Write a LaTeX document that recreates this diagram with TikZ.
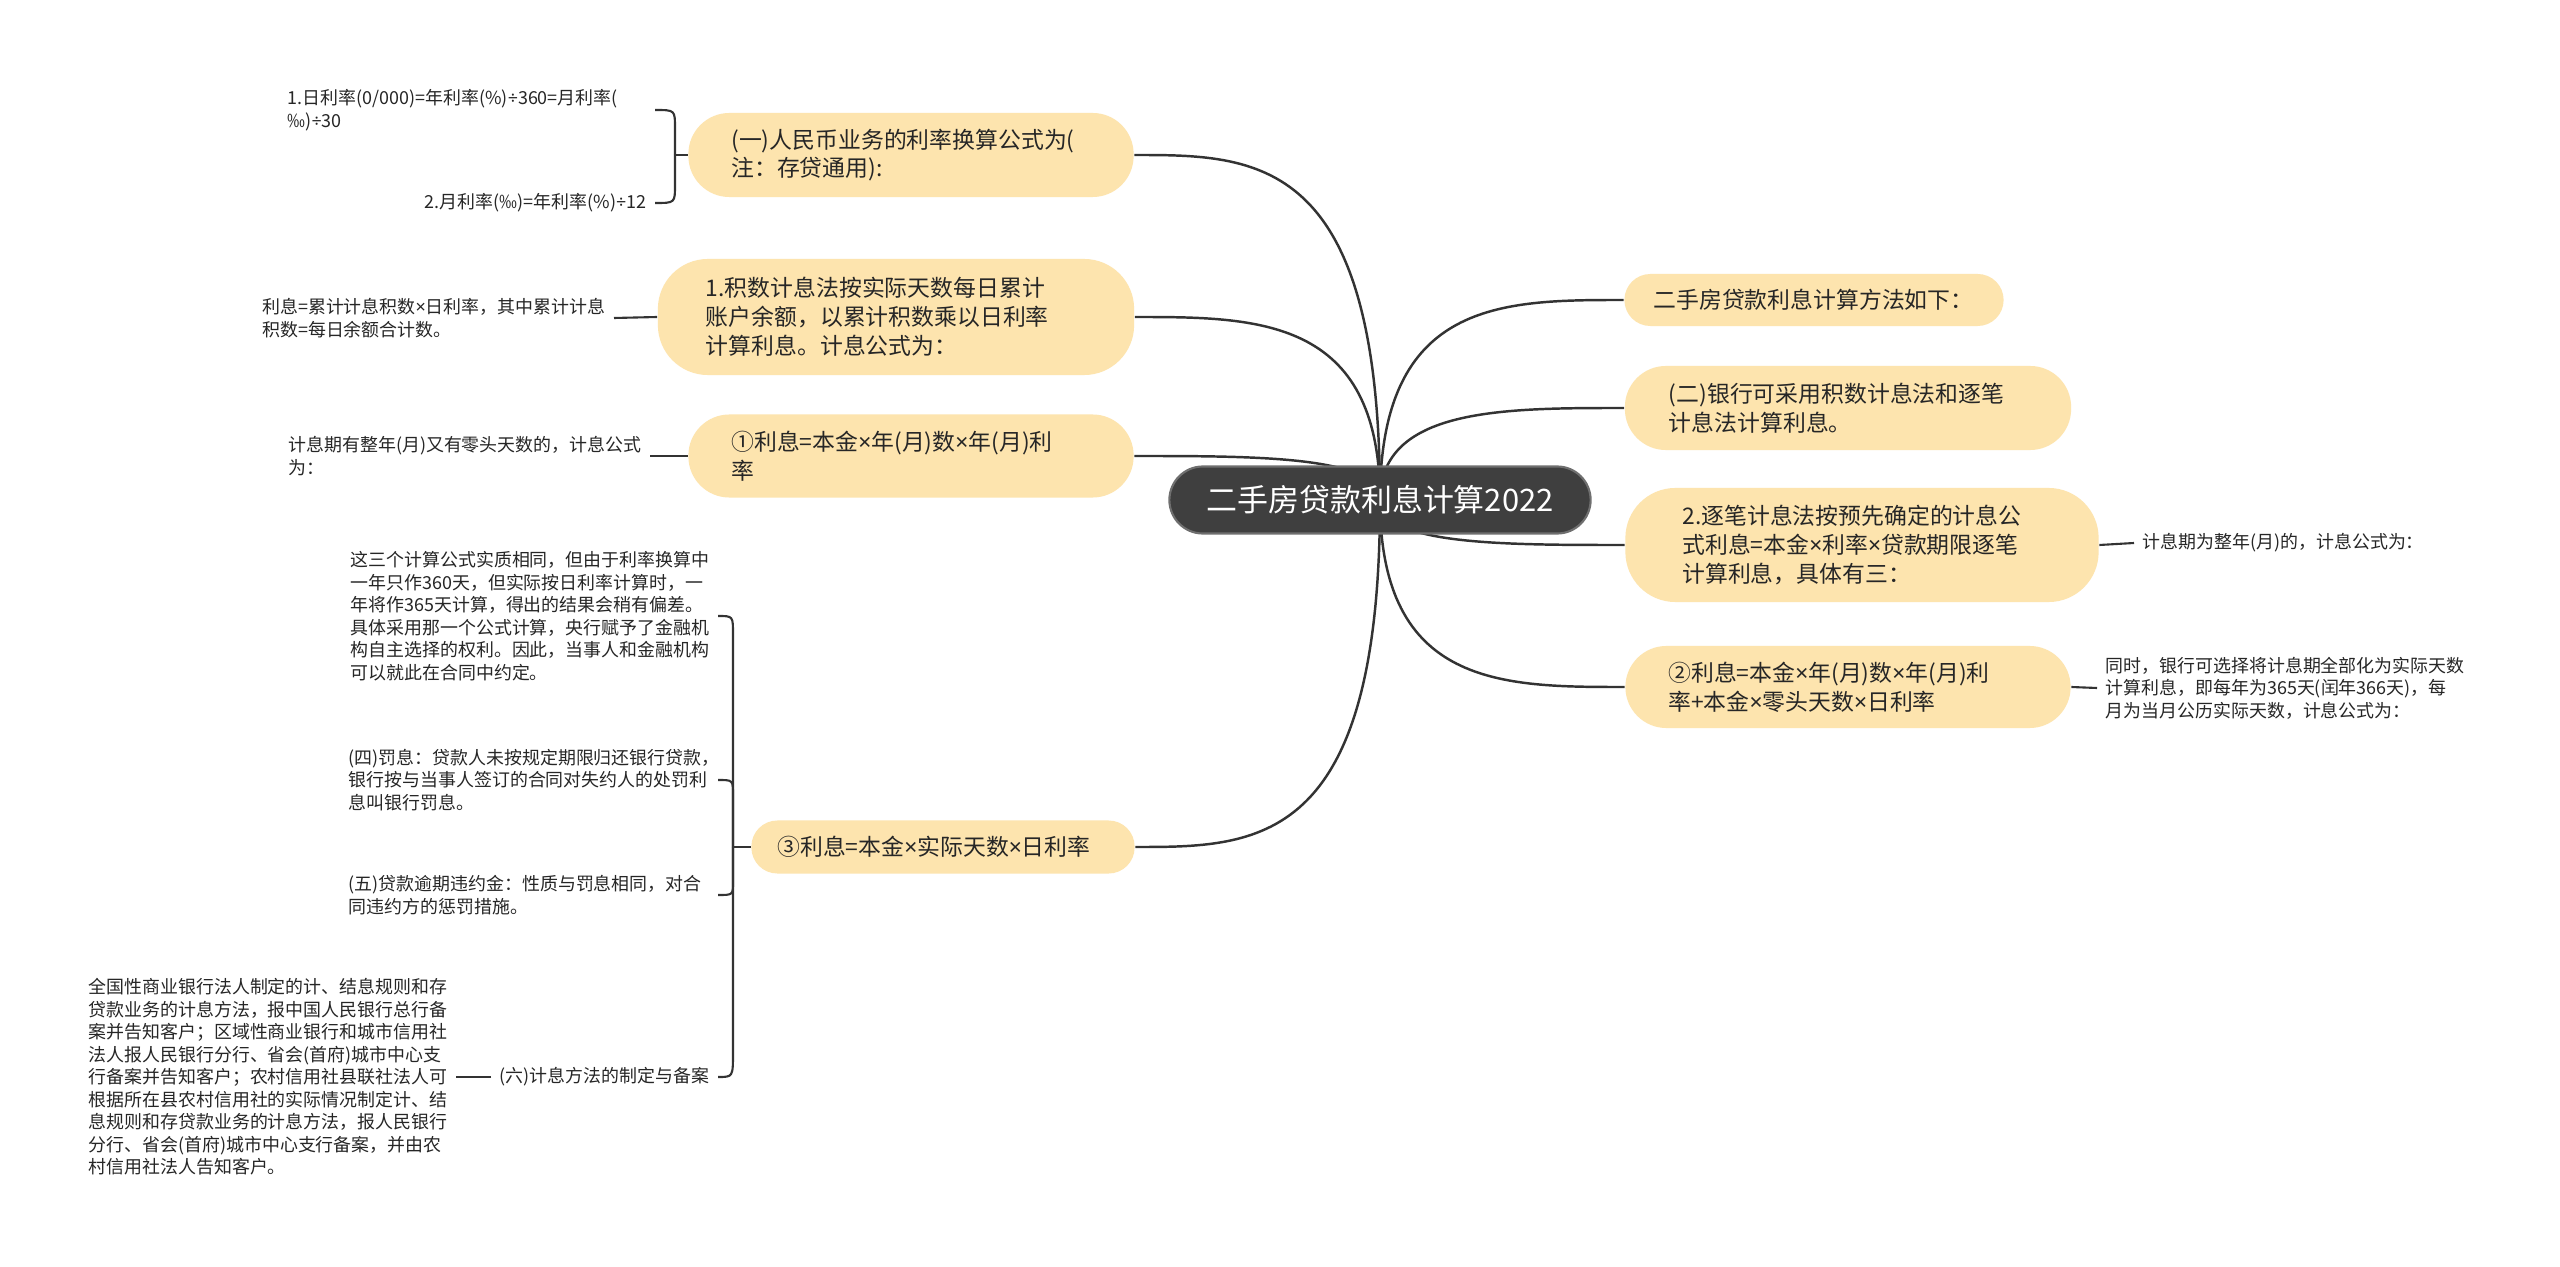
\documentclass[tikz,border=0pt]{standalone}
\usepackage{fontspec}
\setmainfont{Noto Sans CJK SC}
\newfontfamily\latfont{Noto Sans}
\newcommand{\cheng}{{\latfont ×}}
\newcommand{\chufa}{{\latfont ÷}}
\usetikzlibrary{shapes.misc,backgrounds,calc}
\definecolor{zhuti}{HTML}{3F3F3F}
\definecolor{kuang}{HTML}{FDE4AE}
\definecolor{xian}{HTML}{333333}
\begin{document}
\begin{tikzpicture}[x=0.01cm,y=-0.01cm,
    zhongxin/.style={rounded rectangle,fill=zhuti,draw=zhuti!75!white,line width=0.6pt,
      text=white,minimum width=4.21cm,minimum height=0.67cm,inner sep=0pt,
      font=\fontsize{8.8pt}{10pt}\selectfont},
    fenzhi/.style={fill=kuang,draw=none,rounded corners=0.41cm,align=left,inner ysep=0pt,
      text=black!85,font=\fontsize{6.5pt}{8.2pt}\selectfont},
    yezi/.style={align=left,inner xsep=0.08cm,inner ysep=0.02cm,text=black!85,
      font=\fontsize{5.1pt}{6.4pt}\selectfont},
    lianxian/.style={draw=xian,line width=0.7pt},
    kuohao/.style={draw=xian,line width=0.6pt}]
    % 画布
    \useasboundingbox (0,0) rectangle (2560,1267);

    % 中心主题
    \node[zhongxin] (zx) at (1380,500) {二手房贷款利息计算2022};

    % 右侧分支
    \node[fenzhi,text width=3.21cm,inner xsep=0.29cm,minimum height=0.52cm,rounded corners=0.26cm] (R1) at (1814,300) {二手房贷款利息计算方法如下：};
    \node[fenzhi,text width=3.58cm,inner xsep=0.44cm,minimum height=0.84cm] (R2) at (1848,408) {(二)银行可采用积数计息法和逐笔\\计息法计算利息。};
    \node[fenzhi,text width=3.59cm,inner xsep=0.57cm,minimum height=1.14cm,rounded corners=0.5cm] (R3) at (1862,545) {2.逐笔计息法按预先确定的计息公\\式利息=本金\cheng 利率\cheng 贷款期限逐笔\\计算利息，具体有三：};
    \node[fenzhi,text width=3.59cm,inner xsep=0.43cm,minimum height=0.82cm] (R4) at (1848,687) {②利息=本金\cheng 年(月)数\cheng 年(月)利\\率+本金\cheng 零头天数\cheng 日利率};

    % 左侧分支
    \node[fenzhi,text width=3.59cm,inner xsep=0.43cm,minimum height=0.84cm] (L1) at (911,155) {(一)人民币业务的利率换算公式为(\\注：存贷通用):};
    \node[fenzhi,text width=3.80cm,inner xsep=0.48cm,minimum height=1.16cm,rounded corners=0.5cm] (L2) at (896,317) {1.积数计息法按实际天数每日累计\\账户余额，以累计积数乘以日利率\\计算利息。计息公式为：};
    \node[fenzhi,text width=3.59cm,inner xsep=0.43cm,minimum height=0.83cm] (L3) at (911,456) {①利息=本金\cheng 年(月)数\cheng 年(月)利\\率};
    \node[fenzhi,text width=3.31cm,inner xsep=0.26cm,minimum height=0.53cm,rounded corners=0.26cm] (L4) at (943,847) {③利息=本金\cheng 实际天数\cheng 日利率};

    % 叶子
    \node[yezi,anchor=west] (yA1) at (279,110) {1.日利率(0/000)=年利率(\%)\chufa 360=月利率(\\‰)\chufa 30};
    \node[yezi,anchor=east] (yA2) at (655,203) {2.月利率(‰)=年利率(\%)\chufa 12};
    \node[yezi,anchor=east] (yB) at (614,318) {利息=累计计息积数\cheng 日利率，其中累计计息\\积数=每日余额合计数。};
    \node[yezi,anchor=east] (yC) at (650,456) {计息期有整年(月)又有零头天数的，计息公式\\为：};
    \node[yezi,anchor=east] (yD1) at (718,616) {这三个计算公式实质相同，但由于利率换算中\\一年只作360天，但实际按日利率计算时，一\\年将作365天计算，得出的结果会稍有偏差。\\具体采用那一个公式计算，央行赋予了金融机\\构自主选择的权利。因此，当事人和金融机构\\可以就此在合同中约定。};
    \node[yezi,anchor=west] (yD2) at (340,780) {(四)罚息：贷款人未按规定期限归还银行贷款，\\银行按与当事人签订的合同对失约人的处罚利\\息叫银行罚息。};
    \node[yezi,anchor=west] (yD3) at (340,895) {(五)贷款逾期违约金：性质与罚息相同，对合\\同违约方的惩罚措施。};
    \node[yezi,anchor=east] (yD4) at (718,1077) {(六)计息方法的制定与备案};
    \node[yezi,anchor=east] (yE) at (456,1077) {全国性商业银行法人制定的计、结息规则和存\\贷款业务的计息方法，报中国人民银行总行备\\案并告知客户；区域性商业银行和城市信用社\\法人报人民银行分行、省会(首府)城市中心支\\行备案并告知客户；农村信用社县联社法人可\\根据所在县农村信用社的实际情况制定计、结\\息规则和存贷款业务的计息方法，报人民银行\\分行、省会(首府)城市中心支行备案，并由农\\村信用社法人告知客户。};
    \node[yezi,anchor=west] (yR3) at (2134,543) {计息期为整年(月)的，计息公式为：};
    \node[yezi,anchor=west] (yR4) at (2097,688) {同时，银行可选择将计息期全部化为实际天数\\计算利息，即每年为365天(闰年366天)，每\\月为当月公历实际天数，计息公式为：};

    % 括号的汇合点
    \coordinate (jA) at (675,155);
    \coordinate (jD) at (733,847);

    \begin{scope}[on background layer]
    \fill[white] (0,0) rectangle (2560,1267);
    % 中心到分支的曲线
    \foreach \n/\a in {L1/east,L2/east,L3/east,L4/east,R1/west,R2/west,R3/west,R4/west}
    \draw[lianxian] (zx.center) .. controls (zx.center |- \n.\a) and ($(zx.center |- \n.\a)!0.5!(\n.\a)$) .. (\n.\a);
    \end{scope}

    % 分支到叶子
    \draw[kuohao] (L2.west) -- (yB.east);
    \draw[kuohao] (L3.west) -- (yC.east);
    \draw[kuohao] (R3.east) -- (yR3.west);
    \draw[kuohao] (R4.east) -- (yR4.west);
    \draw[kuohao] (yD4.west) -- (yE.east);

    % 括号
    \draw[kuohao] (jA) -- (L1.west);
    \draw[kuohao] (yA1.east -| yA2.east) .. controls (yA1.east -| jA) .. ($(yA1.east -| jA)+(0,18)$) -- (jA);
    \draw[kuohao] (yA2.east) .. controls (yA2.east -| jA) .. ($(yA2.east -| jA)+(0,-18)$) -- (jA);
    \draw[kuohao] (jD) -- (L4.west);
    \foreach \c/\s in {yD1/18,yD2/15,yD3/-13,yD4/-25}
    \draw[kuohao] (\c.east -| yD1.east) .. controls (\c.east -| jD) .. ($(\c.east -| jD)+(0,\s)$) -- (jD);
\end{tikzpicture}
\end{document}
